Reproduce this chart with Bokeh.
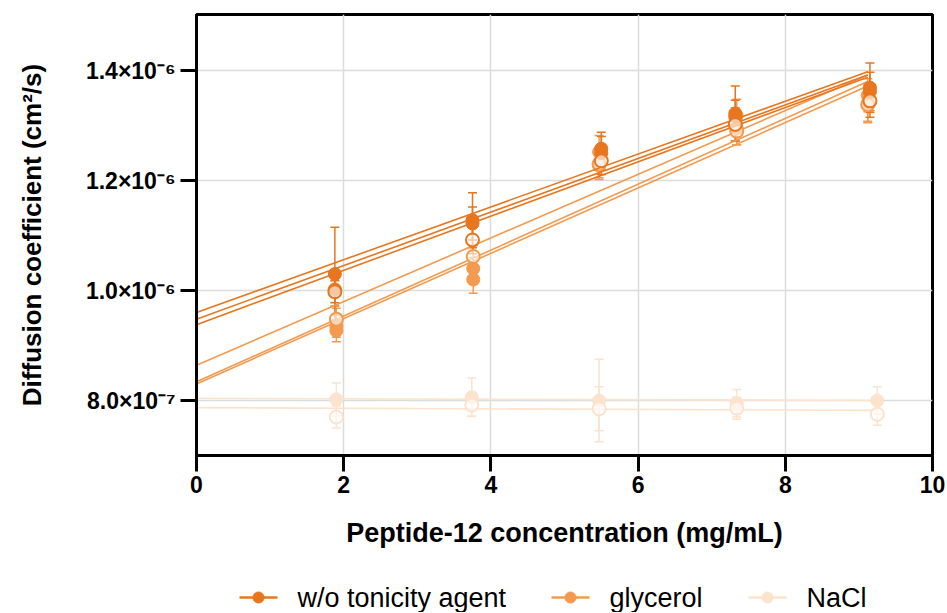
import numpy as np
from bokeh.plotting import figure
from bokeh.layouts import column
from bokeh.models import ColumnDataSource, Whisker, TeeHead, FixedTicker, Range1d
from bokeh.core.properties import value
from bokeh.embed import file_html
from bokeh.resources import INLINE

# ---------------- data (D in units of 1e-6 cm^2/s) ----------------
conc_w = [1.88, 3.75, 5.50, 7.32, 9.15]
conc_g = [1.90, 3.76, 5.47, 7.34, 9.12]
conc_n = [1.90, 3.74, 5.47, 7.34, 9.25]

w1 = [1.030, 1.128, 1.258, 1.322, 1.369]
w1_err = [0.085, 0.050, 0.030, 0.050, 0.045]
w2 = [1.002, 1.122, 1.250, 1.316, 1.362]
w2_err = [0.030, 0.030, 0.030, 0.030, 0.035]
w3 = [0.998, 1.092, 1.236, 1.302, 1.345]
w3_err = [0.020, 0.025, 0.025, 0.030, 0.030]

g1 = [0.935, 1.040, 1.252, 1.318, 1.355]
g1_err = [0.020, 0.020, 0.030, 0.030, 0.030]
g2 = [0.927, 1.020, 1.227, 1.295, 1.340]
g2_err = [0.020, 0.025, 0.025, 0.030, 0.035]
g3 = [0.948, 1.062, 1.230, 1.290, 1.338]
g3_err = [0.020, 0.020, 0.025, 0.025, 0.030]

n1 = [0.802, 0.806, 0.800, 0.795, 0.800]
n1_err = [0.030, 0.035, 0.075, 0.025, 0.025]
n2 = [0.770, 0.792, 0.785, 0.786, 0.775]
n2_err = [0.020, 0.020, 0.040, 0.020, 0.020]

# linear fits: value at 0 and at end concentration
fit_w_start = [0.960, 0.948, 0.938]
fit_w_end = [1.398, 1.392, 1.388]
fit_g_start = [0.864, 0.834, 0.830]
fit_g_end = [1.392, 1.380, 1.372]
fit_n_start = [0.804, 0.787]
fit_n_end = [0.800, 0.782]
fit_x_end_w = 9.12
fit_x_end_g = 9.12
fit_x_end_n = 9.25

group_names = ["w/o tonicity agent", "glycerol", "NaCl"]
y_ticks = [0.8, 1.0, 1.2, 1.4]
y_tick_labels = ["8.0×10⁻⁷", "1.0×10⁻⁶", "1.2×10⁻⁶", "1.4×10⁻⁶"]
x_ticks = [0, 2, 4, 6, 8, 10]

SCALE = 1e-6
C_W = "#E8761E"
C_G = "#F39A4E"
C_N = "#FCE3CD"
group_colors = [C_W, C_G, C_N]
FONT = "Liberation Sans"

BORDER_L, BORDER_R = 196, 14
FIG_W = 946

p = figure(width=FIG_W, height=568, output_backend="svg", toolbar_location=None,
           x_range=Range1d(0, 10), y_range=Range1d(0.70 * SCALE, 1.502 * SCALE),
           min_border_left=BORDER_L, min_border_right=BORDER_R, min_border_top=14,
           min_border_bottom=113)

p.outline_line_color = "black"
p.outline_line_width = 3
p.background_fill_color = "white"
p.border_fill_color = "white"

for g in (p.xgrid, p.ygrid):
    g.grid_line_color = "#dcdcdc"
    g.grid_line_width = 1.5

p.xaxis.ticker = FixedTicker(ticks=x_ticks)
p.yaxis.ticker = FixedTicker(ticks=[t * SCALE for t in y_ticks])
p.yaxis.major_label_overrides = {t * SCALE: lab for t, lab in zip(y_ticks, y_tick_labels)}

for ax in (p.xaxis, p.yaxis):
    ax.axis_line_width = 3
    ax.axis_line_color = "black"
    ax.major_tick_line_width = 3
    ax.major_tick_line_color = "black"
    ax.major_tick_out = 16
    ax.major_tick_in = 0
    ax.minor_tick_line_color = None
    ax.major_label_text_font = FONT
    ax.major_label_text_font_style = "bold"
    ax.major_label_text_font_size = "23px"
    ax.major_label_text_color = "black"
    ax.axis_label_text_font = FONT
    ax.axis_label_text_font_style = "bold"
    ax.axis_label_text_color = "black"

p.xaxis.axis_label = "Peptide-12 concentration (mg/mL)"
p.yaxis.axis_label = "Diffusion coefficient (cm²/s)"
p.xaxis.axis_label_text_font_size = "27px"
p.yaxis.axis_label_text_font_size = "26px"
p.xaxis.major_label_standoff = 4
p.yaxis.major_label_standoff = 5
p.xaxis.axis_label_standoff = 22
p.yaxis.axis_label_standoff = 36


def add_series(xs, ys, errs, color, open_marker):
    ys = np.array(ys) * SCALE
    errs = np.array(errs) * SCALE
    src = ColumnDataSource(dict(x=xs, y=ys, lo=ys - errs, hi=ys + errs))
    wh = Whisker(source=src, base="x", lower="lo", upper="hi",
                 line_color=color, line_width=1.5,
                 upper_head=TeeHead(size=9, line_color=color, line_width=1.5),
                 lower_head=TeeHead(size=9, line_color=color, line_width=1.5))
    p.add_layout(wh)
    if open_marker:
        r = p.scatter("x", "y", source=src, marker="circle", size=13,
                      fill_color="white", fill_alpha=0.6, line_color=color, line_width=2)
    else:
        r = p.scatter("x", "y", source=src, marker="circle", size=13,
                      fill_color=color, line_color=color, line_width=1)
    return r


def add_fit(x_end, y0, y1, color):
    return p.line([0, x_end], [y0 * SCALE, y1 * SCALE], line_color=color, line_width=1.6)


# NaCl (drawn first, lightest)
fits_n = [add_fit(fit_x_end_n, a, b, C_N) for a, b in zip(fit_n_start, fit_n_end)]
pts_n = [add_series(conc_n, n1, n1_err, C_N, False),
         add_series(conc_n, n2, n2_err, C_N, True)]

# glycerol
fits_g = [add_fit(fit_x_end_g, a, b, C_G) for a, b in zip(fit_g_start, fit_g_end)]
pts_g = [add_series(conc_g, g1, g1_err, C_G, False),
         add_series(conc_g, g2, g2_err, C_G, False),
         add_series(conc_g, g3, g3_err, C_G, True)]

# w/o tonicity agent
fits_w = [add_fit(fit_x_end_w, a, b, C_W) for a, b in zip(fit_w_start, fit_w_end)]
pts_w = [add_series(conc_w, w1, w1_err, C_W, False),
         add_series(conc_w, w2, w2_err, C_W, False),
         add_series(conc_w, w3, w3_err, C_W, True)]

# ---------------- legend strip (separate figure, x in page pixels) ----------------
LEG_H = 44
leg_glyph_left = [239, 551, 748]
leg_glyph_len = 38
leg_text_gap = 20
leg_y = 15

lg = figure(width=FIG_W, height=LEG_H, output_backend="svg", toolbar_location=None,
            x_range=Range1d(BORDER_L, FIG_W - BORDER_R), y_range=Range1d(0, LEG_H),
            x_axis_type=None, y_axis_type=None,
            min_border_left=BORDER_L, min_border_right=BORDER_R,
            min_border_top=0, min_border_bottom=0)
lg.outline_line_color = None
lg.grid.visible = False
lg.background_fill_color = "white"
lg.border_fill_color = "white"

for name, col, x0 in zip(group_names, group_colors, leg_glyph_left):
    lg.line([x0, x0 + leg_glyph_len], [leg_y, leg_y], line_color=col, line_width=2.5)
    lg.scatter([x0 + leg_glyph_len / 2], [leg_y], marker="circle", size=11,
               fill_color=col, line_color=col)
    lg.text([x0 + leg_glyph_len + leg_text_gap], [leg_y], text=[name],
            text_font=value(FONT), text_font_size="27px", text_color="black",
            text_baseline="middle", text_align="left")

layout = column(p, lg, spacing=0)
open("out.html", "w").write(file_html(layout, INLINE))
